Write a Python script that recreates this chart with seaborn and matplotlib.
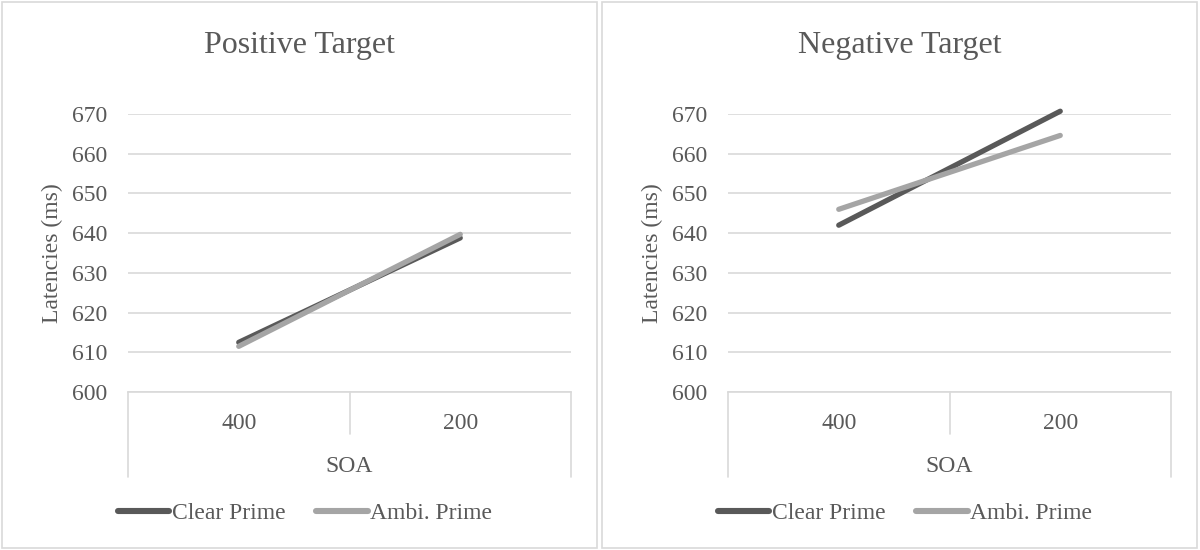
import matplotlib
matplotlib.use("Agg")
import matplotlib.pyplot as plt
import matplotlib.transforms as mtransforms
from matplotlib.patches import Rectangle
import pandas as pd
import seaborn as sns

# Mean response latencies (ms) by SOA and prime type
soa_levels = ["400", "200"]
primes = ["Clear Prime", "Ambi. Prime"]
positive_clear = [612.5, 638.8]
positive_ambi = [611.5, 639.7]
negative_clear = [642.0, 670.7]
negative_ambi = [646.0, 664.6]
panel_titles = ["Positive Target", "Negative Target"]
y_ticks = [600, 610, 620, 630, 640, 650, 660, 670]

sns.set_theme(style="white")
plt.rcParams["font.family"] = ["Liberation Serif", "DejaVu Serif"]

TEXT = "#595959"
GRID = "#D9D9D9"
palette = {"Clear Prime": "#595959", "Ambi. Prime": "#A5A5A5"}
FS = 17


def make_frame(clear, ambi):
    rows = []
    for name, vals in zip(primes, [clear, ambi]):
        for s, v in zip(soa_levels, vals):
            rows.append({"SOA": s, "Latency": v, "Prime": name})
    return pd.DataFrame(rows)


fig = plt.figure(figsize=(12, 5.5), dpi=100)
W, H = 1200, 550

panels = [
    (0, panel_titles[0], make_frame(positive_clear, positive_ambi)),
    (600, panel_titles[1], make_frame(negative_clear, negative_ambi)),
]

for off, title, df in panels:
    # panel border
    fig.patches.append(Rectangle(((off + 2) / W, 2 / H), 595 / W, 546 / H,
                                 transform=fig.transFigure, fill=False,
                                 edgecolor=GRID, linewidth=1.2))
    ax = fig.add_axes([(off + 128) / W, (550 - 392) / H, 443 / W, 278 / H])
    sns.lineplot(data=df, x="SOA", y="Latency", hue="Prime", palette=palette,
                 linewidth=3.8, solid_capstyle="round", sort=False, ax=ax,
                 legend=False)
    for ln in ax.get_lines():
        ln.set_clip_on(False)
    ax.set_xlim(-0.5, 1.5)
    ax.set_ylim(600, 670)
    ax.set_yticks(y_ticks)
    ax.yaxis.grid(True, color=GRID, linewidth=1.2)
    ax.set_axisbelow(True)
    for s in ["top", "right", "left"]:
        ax.spines[s].set_visible(False)
    ax.spines["bottom"].set_color(GRID)
    ax.spines["bottom"].set_linewidth(1.2)
    ax.tick_params(axis="both", length=0, labelsize=FS, colors=TEXT)
    ax.tick_params(axis="x", pad=15)
    ax.tick_params(axis="y", pad=15)
    ax.set_xticks([0, 1])
    ax.set_xticklabels(soa_levels)

    # category frame below the axis
    tr = mtransforms.blended_transform_factory(ax.transData, ax.transAxes)
    px = 1 / 278
    for xv, depth in [(-0.5, 85), (0.5, 42), (1.5, 85)]:
        ax.plot([xv, xv], [0, -depth * px], transform=tr, color=GRID,
                linewidth=1.2, clip_on=False)

    ax.set_xlabel("SOA", fontsize=FS, color=TEXT, labelpad=16)
    ax.set_ylabel("Latencies (ms)", fontsize=FS, color=TEXT, labelpad=6)
    fig.text((off + 300) / W, (550 - 45) / H, title, ha="center",
             va="center", fontsize=23, color=TEXT)

    # legend under each panel
    handles = [plt.Line2D([], [], color=palette[p], linewidth=4.4,
                          solid_capstyle="round") for p in primes]
    fig.legend(handles, primes, loc="center",
               bbox_to_anchor=((off + 305) / W, (550 - 513) / H),
               ncol=2, frameon=False, fontsize=FS, labelcolor=TEXT,
               handlelength=2.2, handletextpad=0.1, columnspacing=1.3)

fig.savefig("out.png", dpi=100, facecolor="white")
